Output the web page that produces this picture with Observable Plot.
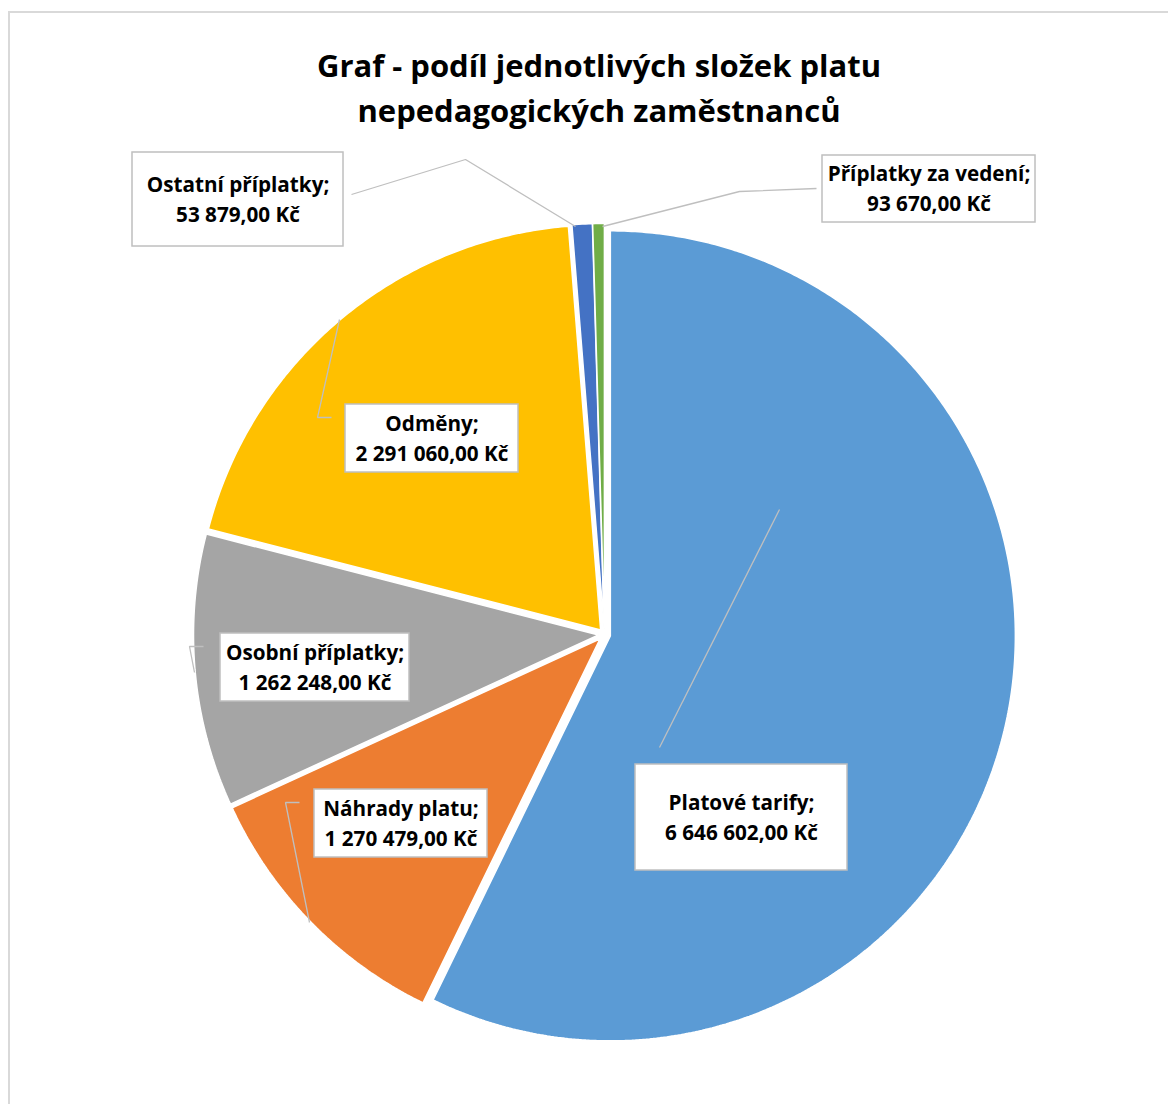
<!DOCTYPE html>
<html><head><meta charset="utf-8">
<script src="https://cdn.jsdelivr.net/npm/d3@7"></script>
<script src="https://cdn.jsdelivr.net/npm/@observablehq/plot@0.6"></script>
<style>
html,body{margin:0;padding:0;background:#fff;}
#wrap{position:relative;width:1168px;height:1104px;overflow:hidden;background:#fff;}
#frame{position:absolute;left:8px;top:11px;width:1400px;height:1400px;border:2px solid #d9d9d9;box-sizing:border-box;}
#title{position:absolute;left:0;top:42.5px;width:1198px;text-align:center;font-family:"Open Sans",sans-serif;font-weight:700;font-size:31px;line-height:45.4px;color:#000;}
#chart{position:absolute;left:0;top:140px;}
</style></head>
<body><div id="wrap"><div id="frame"></div><div id="title"></div><div id="chart"></div></div>
<script>
// ---- data ----
const titleLines = ["Graf - podíl jednotlivých složek platu", "nepedagogických zaměstnanců"];
const categories = ["Platové tarify", "Náhrady platu", "Osobní příplatky", "Odměny", "Příplatky za vedení", "Ostatní příplatky"];
const values = [6646602, 1270479, 1262248, 2291060, 93670, 53879];
const colors = ["#5B9BD5", "#ED7D31", "#A5A5A5", "#FFC000", "#4472C4", "#70AD47"];

// ---- layout (pixels relative to the pie centre, y downwards) ----
const CX = 604, CY = 634, R = 405, SVG_TOP = 140, W = 1168, H = 964, EXPLODE = 6;
const labelBoxes = {
  "Platové tarify":      [31, 130, 243, 236],
  "Náhrady platu":       [-290, 155, -117, 223],
  "Osobní příplatky":    [-384, -1, -195, 67],
  "Odměny":              [-259, -230, -86, -162],
  "Ostatní příplatky":   [-472, -482, -261, -388],
  "Příplatky za vedení": [218, -479, 431, -412]
};
const leaderPaths = {
  "Platové tarify":      [[175, -125], [55, 113]],
  "Náhrady platu":       [[-305, 168], [-319, 168], [-295, 288]],
  "Osobní příplatky":    [[-401, 12], [-415, 12], [-410, 38]],
  "Odměny":              [[-265, -315], [-287, -217], [-273, -217]],
  "Ostatní příplatky":   [[-253, -440], [-139, -475], [-29, -408]],
  "Příplatky za vedení": [[212, -446], [135, -443], [-2, -408]]
};

document.getElementById("title").innerHTML = titleLines.join("<br>");

const cz = d3.formatLocale({decimal: ",", thousands: " ", grouping: [3], currency: ["", " Kč"]});
const fmt = cz.format("$,.2f");

const rows = categories.map((name, i) => ({name, value: values[i]}));
const arcs = d3.pie().value(d => d.value).sort(null)(rows);
const e = EXPLODE / R;
const slicePts = arcs.flatMap(a => {
  const mid = (a.startAngle + a.endAngle) / 2;
  const ox = e * Math.sin(mid), oy = e * Math.cos(mid);
  const n = Math.max(2, Math.ceil((a.endAngle - a.startAngle) / (Math.PI / 360)));
  const pts = [{name: a.data.name, x: ox, y: oy}];
  for (let k = 0; k <= n; k++) {
    const t = a.startAngle + (a.endAngle - a.startAngle) * k / n;
    pts.push({name: a.data.name, x: ox + Math.sin(t), y: oy + Math.cos(t)});
  }
  return pts;
});

const labels = rows.map(d => {
  const b = labelBoxes[d.name];
  return {
    name: d.name,
    x1: b[0] / R, x2: b[2] / R, y1: -b[1] / R, y2: -b[3] / R,
    cx: (b[0] + b[2]) / 2 / R, cy: -((b[1] + b[3]) / 2 - 2.2) / R,
    text: d.name + ";\n" + fmt(d.value)
  };
});
const leaders = rows.flatMap(d => leaderPaths[d.name].map(([px, py]) => ({name: d.name, x: px / R, y: -py / R})));

const chart = Plot.plot({
  width: W, height: H, margin: 0,
  x: {domain: [(0 - CX) / R, (W - CX) / R], axis: null},
  y: {domain: [(CY - SVG_TOP - H) / R, (CY - SVG_TOP) / R], axis: null},
  color: {domain: categories, range: colors},
  style: {background: "transparent"},
  marks: [
    Plot.line(slicePts, {x: "x", y: "y", z: "name", fill: "name", stroke: "white", strokeWidth: 1.5, curve: "linear-closed", strokeLinejoin: "miter"}),
    Plot.line(leaders, {x: "x", y: "y", z: "name", stroke: "#bfbfbf", strokeWidth: 1.3, strokeLinejoin: "miter", strokeLinecap: "butt"}),
    Plot.rect(labels, {x1: "x1", x2: "x2", y1: "y1", y2: "y2", fill: "white", stroke: "#bfbfbf", strokeWidth: 1.5}),
    Plot.text(labels, {x: "cx", y: "cy", text: "text", fontFamily: "Open Sans", fontWeight: 700, fontSize: 20.7, lineHeight: 1.45, fill: "#000"})
  ]
});
document.getElementById("chart").appendChild(chart);
</script>
</body></html>
